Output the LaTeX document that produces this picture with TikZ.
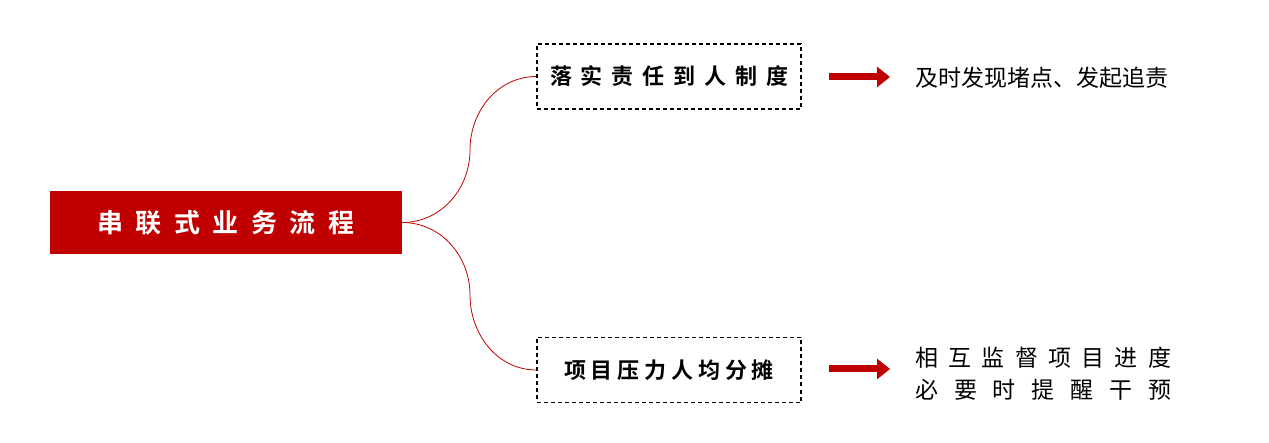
\documentclass[tikz,border=0pt]{standalone}
\usepackage{fontspec}
\setmainfont{Noto Sans CJK SC}
\newfontfamily\cjkb{Noto Sans CJK SC Bold}
\usetikzlibrary{arrows.meta}
\definecolor{dred}{HTML}{C00000}
\newcommand{\spreadtext}[2]{\makebox[#1][s]{#2}}
\tikzset{
  titlebox/.style={fill=dred, minimum width=352pt, minimum height=63pt, inner sep=0pt, text=white, font=\cjkb\fontsize{26pt}{30pt}\selectfont},
  dbox/.style={draw=black, dashed, line width=1.2pt, dash pattern=on 4pt off 3pt, minimum width=264pt, minimum height=65pt, inner sep=0pt, font=\cjkb\fontsize{22pt}{26pt}\selectfont},
  link/.style={draw=dred, line width=0.8pt},
  bigarrow/.style={draw=dred, line width=7pt, -{Triangle[length=13pt,width=20pt]}},
  note/.style={anchor=west, inner sep=0pt, font=\fontsize{23pt}{32pt}\selectfont, align=left}
}
\begin{document}
\begin{tikzpicture}[x=1pt,y=-1pt]
\useasboundingbox (0,0) rectangle (1269,443);
\node[titlebox] (t) at (226,222.5) {\spreadtext{257pt}{串\hfill 联\hfill 式\hfill 业\hfill 务\hfill 流\hfill 程}};
\node[dbox] (b1) at (669,76.5) {\spreadtext{238pt}{落\hfill 实\hfill 责\hfill 任\hfill 到\hfill 人\hfill 制\hfill 度}};
\node[dbox] (b2) at (669,370) {\spreadtext{210pt}{项\hfill 目\hfill 压\hfill 力\hfill 人\hfill 均\hfill 分\hfill 摊}};
\coordinate (m1) at (470,150);
\coordinate (m2) at (470,295);
\draw[link] (t.east) to[out=0,in=-90] (m1) to[out=90,in=180] (b1.west);
\draw[link] (t.east) to[out=0,in=90] (m2) to[out=-90,in=180] (b2.west);
\coordinate (a1s) at (829,77); \coordinate (a1e) at (890,77);
\coordinate (a2s) at (829,369); \coordinate (a2e) at (890,369);
\draw[bigarrow] (a1s) -- (a1e);
\draw[bigarrow] (a2s) -- (a2e);
\node[note] (n1) at (915,78) {及时发现堵点、发起追责};
\node[note] (n2) at (915,374) {\spreadtext{256pt}{相\hfill 互\hfill 监\hfill 督\hfill 项\hfill 目\hfill 进\hfill 度}\\ \spreadtext{256pt}{必\hfill 要\hfill 时\hfill 提\hfill 醒\hfill 干\hfill 预}};
\end{tikzpicture}
\end{document}
